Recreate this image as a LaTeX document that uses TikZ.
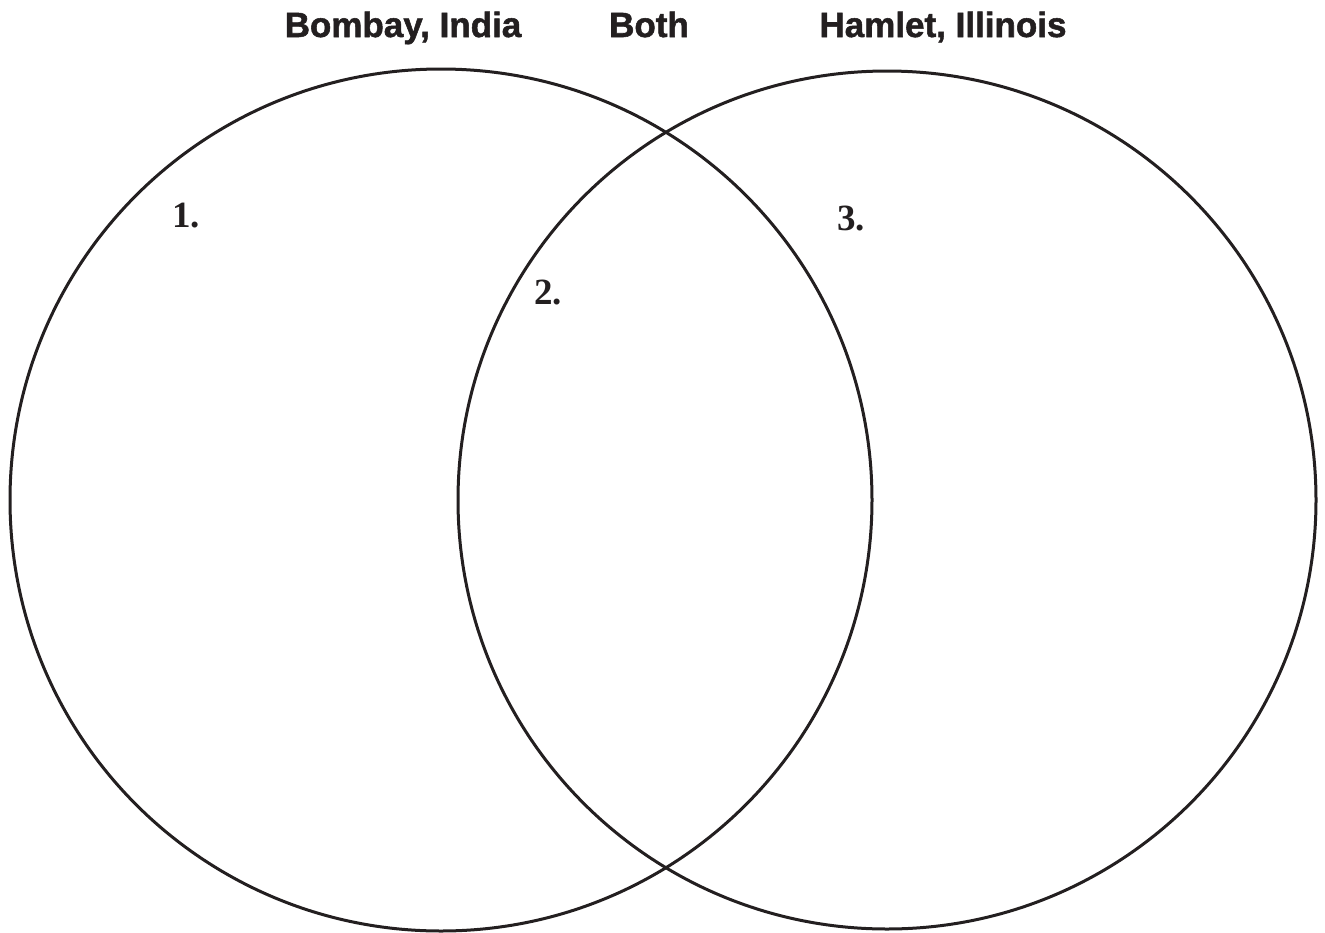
\documentclass[tikz,border=0pt]{standalone}
\usepackage{fontspec}
\setmainfont{Liberation Serif}
\setsansfont{Liberation Sans}[BoldFeatures={FakeBold=1.5}]
\definecolor{ink}{HTML}{231F20}
\begin{document}
\begin{tikzpicture}[x=1pt,y=-1pt,
  ring/.style={draw=ink,line width=3pt},
  title/.style={text=ink,font=\sffamily\bfseries\fontsize{35}{38}\selectfont,anchor=base,inner sep=0pt},
  num/.style={text=ink,font=\bfseries\fontsize{37}{40}\selectfont,anchor=base west,inner sep=0pt}]
\useasboundingbox (0,0) rectangle (1325,932);
\node[ring,circle,minimum size=862pt,inner sep=0pt] (L) at (441,500) {};
\node[ring,circle,minimum size=858pt,inner sep=0pt] (R) at (887,500) {};
\node[title] (t1) at (403,37) {Bombay, India};
\node[title] (t2) at (649,37) {Both};
\node[title] (t3) at (943,37) {Hamlet, Illinois};
\node[num] (n1) at (172,227) {1.};
\node[num] (n2) at (534,304) {2.};
\node[num] (n3) at (837,230) {3.};
\end{tikzpicture}
\end{document}
